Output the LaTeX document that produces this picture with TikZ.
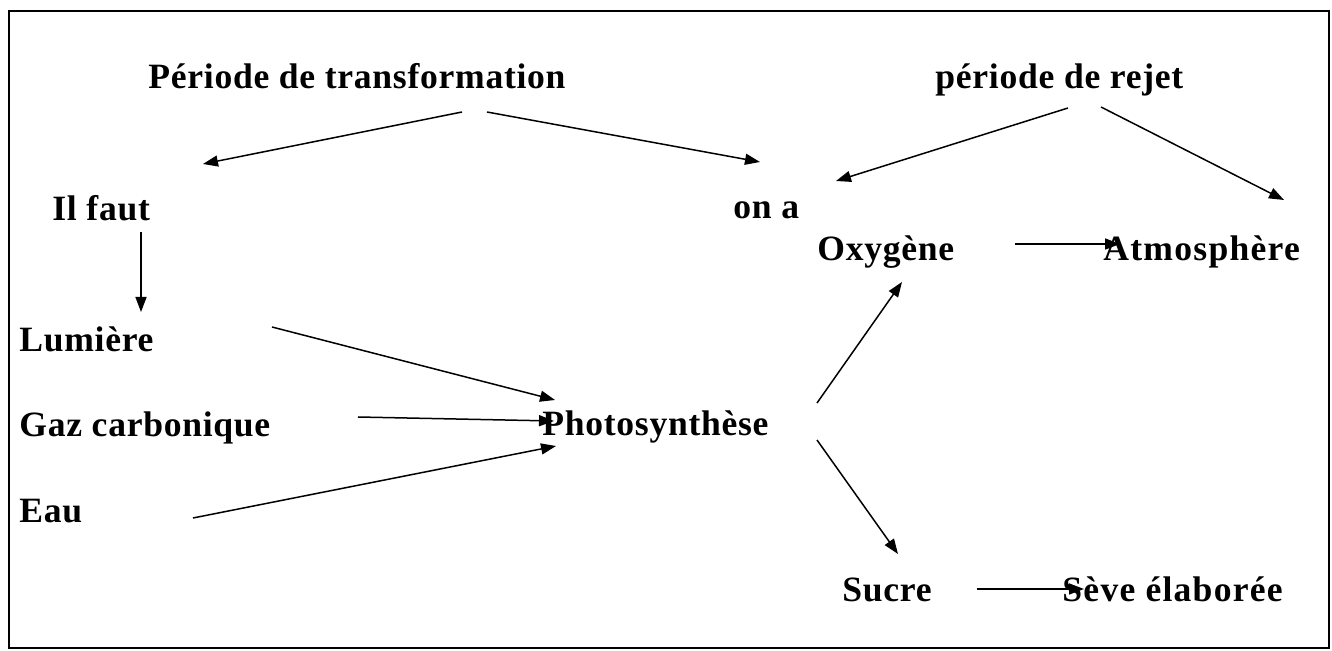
\documentclass[tikz,border=0pt]{standalone}
\usepackage{fontspec}
\setmainfont{Liberation Serif}[LetterSpace=2]
\newfontfamily\widefont{Liberation Serif}[LetterSpace=3.5]
\usetikzlibrary{arrows.meta}
\begin{document}
\begin{tikzpicture}[x=0.5pt,y=-0.5pt,
  lbl/.style={anchor=base west,inner sep=0pt,font=\fontsize{17.8}{20}\selectfont\bfseries},
  lblwide/.style={anchor=base west,inner sep=0pt,font=\fontsize{17.8}{20}\selectfont\widefont\bfseries},
  arr/.style={line width=0.75pt,-{Triangle[length=7.5pt,width=5.5pt]}}]
\useasboundingbox (0,0) rectangle (1332,651);
\draw[line width=0.8pt] (9,11) rectangle (1329,648);
% labels
\node[lbl] (trans) at (148,89) {Période de transformation};
\node[lbl] (rejet) at (935,89) {période de rejet};
\node[lbl] (ilfaut) at (52,221) {Il faut};
\node[lbl] (ona) at (733,219) {on a};
\node[lbl] (oxy) at (817,261) {Oxygène};
\node[lblwide] (atmo) at (1103,261) {Atmosphère};
\node[lbl] (lum) at (19,352) {Lumière};
\node[lbl] (gaz) at (19,437) {Gaz carbonique};
\node[lbl] (photo) at (542,436) {Photosynthèse};
\node[lbl] (eau) at (19,523) {Eau};
\node[lbl] (sucre) at (842,601) {Sucre};
\node[lblwide] (seve) at (1062,601) {Sève élaborée};
% connector end points
\coordinate (a1s) at (462,112); \coordinate (a1e) at (203,164);
\coordinate (a2s) at (487,112); \coordinate (a2e) at (760,162);
\coordinate (a3s) at (1068,108); \coordinate (a3e) at (836,181);
\coordinate (a4s) at (1101,107); \coordinate (a4e) at (1284,200);
\coordinate (a5s) at (141,232); \coordinate (a5e) at (141,312);
\coordinate (a6s) at (272,327); \coordinate (a6e) at (555,400);
\coordinate (a7s) at (358,417); \coordinate (a7e) at (554,421);
\coordinate (a8s) at (193,518); \coordinate (a8e) at (556,446);
\coordinate (a9s) at (817,403); \coordinate (a9e) at (902,282);
\coordinate (a10s) at (1015,244); \coordinate (a10e) at (1120,244);
\coordinate (a11s) at (817,440); \coordinate (a11e) at (898,554);
\coordinate (a12s) at (977,589); \coordinate (a12e) at (1084,589);
\draw[arr] (a1s) -- (a1e);
\draw[arr] (a2s) -- (a2e);
\draw[arr] (a3s) -- (a3e);
\draw[arr] (a4s) -- (a4e);
\draw[arr] (a5s) -- (a5e);
\draw[arr] (a6s) -- (a6e);
\draw[arr] (a7s) -- (a7e);
\draw[arr] (a8s) -- (a8e);
\draw[arr] (a9s) -- (a9e);
\draw[arr] (a10s) -- (a10e);
\draw[arr] (a11s) -- (a11e);
\draw[arr] (a12s) -- (a12e);
\end{tikzpicture}
\end{document}
